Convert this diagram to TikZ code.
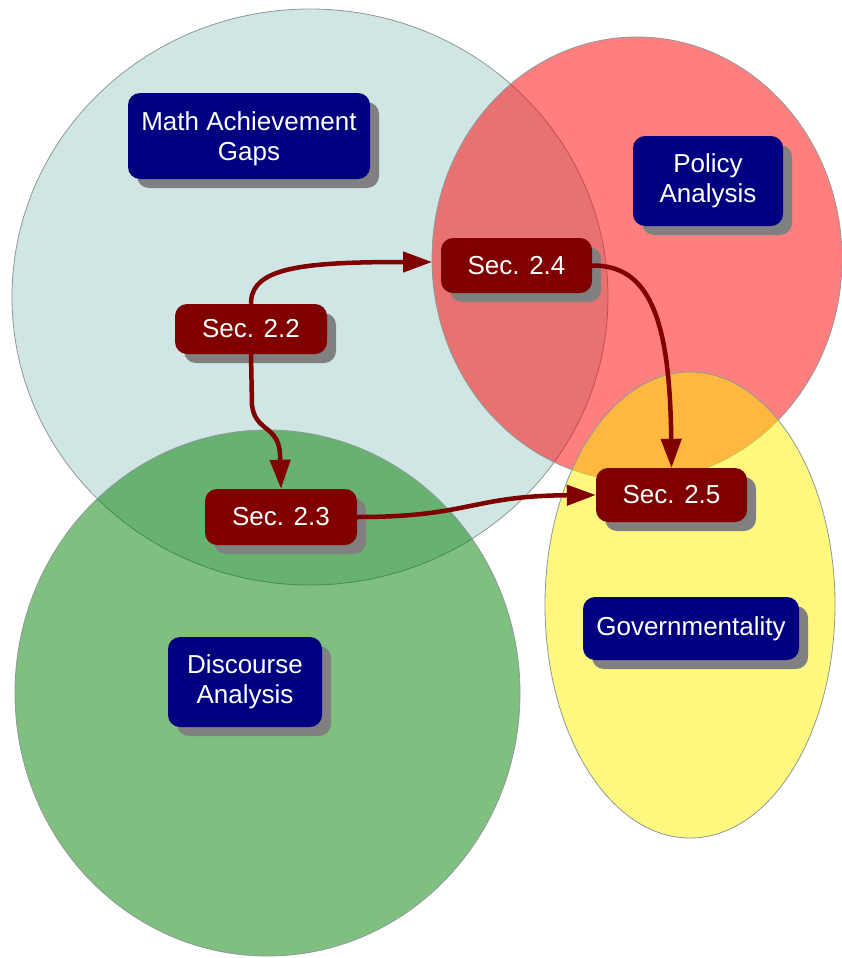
\documentclass[tikz,border=0pt]{standalone}
\usepackage{fontspec}
\setmainfont{Liberation Sans}
\usetikzlibrary{arrows.meta,shadows}
\definecolor{tealfill}{HTML}{CFE6E4}
\definecolor{navybox}{HTML}{000080}
\definecolor{redbox}{HTML}{800000}
\definecolor{shadowgray}{HTML}{808080}
\definecolor{rimgray}{HTML}{909898}
\definecolor{greenfill}{HTML}{008000}
\begin{document}
\begin{tikzpicture}[x=1pt,y=-1pt,
  ring/.style={draw=rimgray, line width=0.8pt},
  topic/.style={fill=navybox, text=white, rounded corners=12pt, inner sep=0pt,
    align=center, font=\fontsize{26}{30}\selectfont,
    drop shadow={shadow xshift=9pt, shadow yshift=-9pt, fill=shadowgray, opacity=1}},
  secbox/.style={topic, fill=redbox},
  link/.style={draw=redbox, line width=4.5pt, -{Triangle[length=29pt,width=20pt]}}
]
\useasboundingbox (0,0) rectangle (842,958);
\fill[white] (0,0) rectangle (842,958);
% circles
\path[ring, fill=tealfill] (310,297) ellipse [x radius=298, y radius=288];
\path[ring, fill=red, fill opacity=0.5] (637,259) ellipse [x radius=205, y radius=222];
\path[ring, fill=greenfill, fill opacity=0.5] (267.5,693) ellipse [x radius=252.5, y radius=263];
\path[ring, fill=yellow, fill opacity=0.5] (690,605) ellipse [x radius=145, y radius=233];
% topic boxes
\node[topic, minimum width=242pt, minimum height=86pt, text depth=0pt] (mag) at (249,136) {Math Achievement\\Gaps\rule[-2pt]{0pt}{2pt}};
\node[topic, minimum width=150pt, minimum height=90pt] (pa) at (708,181) {Policy\\Analysis};
\node[topic, minimum width=154pt, minimum height=90pt] (da) at (245,682) {Discourse\\Analysis};
\node[topic, minimum width=216pt, minimum height=63pt] (gov) at (691,628.5) {Governmentality};
% section boxes
\node[secbox, minimum width=152pt, minimum height=50pt] (s22) at (251,329) {Sec. 2.2};
\node[secbox, minimum width=151pt, minimum height=55pt] (s24) at (516.5,265.5) {Sec. 2.4};
\node[secbox, minimum width=152pt, minimum height=56pt] (s23) at (281,517) {Sec. 2.3};
\node[secbox, minimum width=151pt, minimum height=54pt] (s25) at (671.5,495) {Sec. 2.5};
\coordinate (t24) at (432,262);
% connectors
\draw[link] (s22.north) .. controls (251,268) and (300,262) .. (t24);
\draw[link] (s22.south) -- (252,405) .. controls (255,432) and (279,425) .. (280,455) -- (s23.north);
\draw[link] (s24.east) .. controls (650,265) and (670,320) .. (s25.north);
\draw[link] (s23.east) .. controls (470,517) and (470,496) .. (s25.west);
\end{tikzpicture}
\end{document}
